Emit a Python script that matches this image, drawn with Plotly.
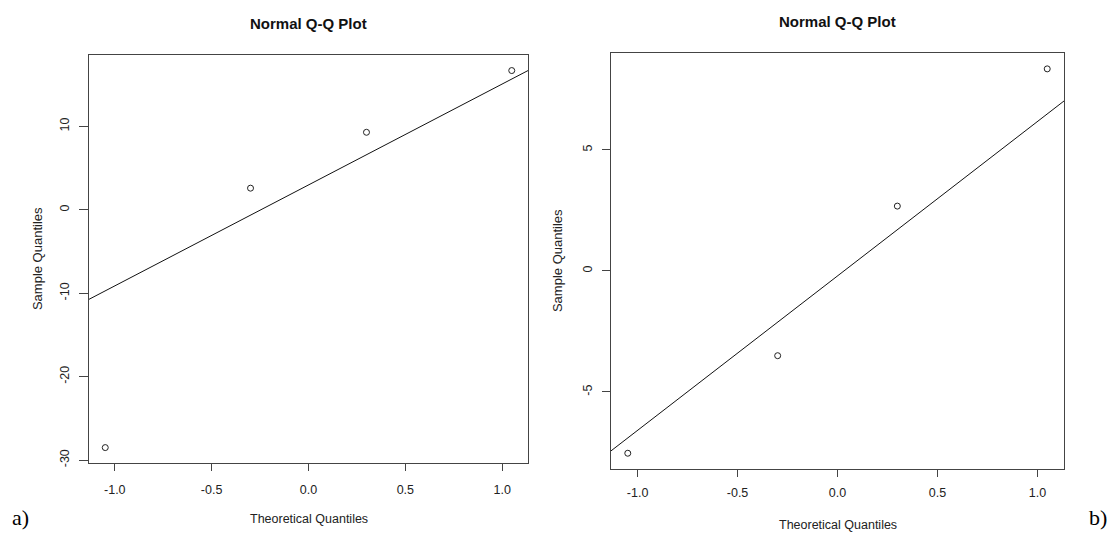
import numpy as np
import plotly.graph_objects as go
from statistics import NormalDist

# Sample values
sample_a = [-28.5, 2.6, 9.3, 16.7]
sample_b = [-7.53, -3.5, 2.68, 8.35]
x_ticks = [-1.0, -0.5, 0.0, 0.5, 1.0]
y_ticks_a = [-30, -20, -10, 0, 10]
y_ticks_b = [-5, 0, 5]

title_text = "Normal Q-Q Plot"
xlab = "Theoretical Quantiles"
ylab = "Sample Quantiles"


def theo_quantiles(n):
    a = 3 / 8 if n <= 10 else 0.5
    p = [(i - a) / (n + 1 - 2 * a) for i in range(1, n + 1)]
    return [NormalDist().inv_cdf(v) for v in p]


def ext(lo, hi):
    d = (hi - lo) * 0.04
    return [lo - d, hi + d]


def qqline(y, xr):
    y = np.sort(np.asarray(y, dtype=float))
    q1, q3 = np.quantile(y, [0.25, 0.75])
    t1, t3 = NormalDist().inv_cdf(0.25), NormalDist().inv_cdf(0.75)
    slope = (q3 - q1) / (t3 - t1)
    inter = q1 - slope * t1
    return [xr[0], xr[1]], [inter + slope * xr[0], inter + slope * xr[1]]


W, H = 1116, 539
fig = go.Figure()

panels = [
    dict(y=sample_a, yt=y_ticks_a, xs="x", ys="y", box=(89, 528, 56, 467),
         xtl=7, ytl=9, xso=8, yso=5),
    dict(y=sample_b, yt=y_ticks_b, xs="x2", ys="y2", box=(611, 1064, 54, 473),
         xtl=7, ytl=8, xso=5, yso=5),
]

txt_color = "#222222"
font_family = "Liberation Sans, Arial, sans-serif"


def note(text, px, py, size, family=font_family, color=txt_color, angle=0):
    fig.add_annotation(text=text, x=px / W, y=1 - py / H, xref="paper", yref="paper",
                       xanchor="center", yanchor="middle", showarrow=False, textangle=angle,
                       font=dict(family=family, size=size, color=color))


for i, p in enumerate(panels):
    y = sorted(p["y"])
    tq = theo_quantiles(len(y))
    xr = ext(tq[0], tq[-1])
    yr = ext(y[0], y[-1])
    lx, ly = qqline(y, xr)
    fig.add_trace(go.Scatter(x=tq, y=y, mode="markers", xaxis=p["xs"], yaxis=p["ys"],
                             marker=dict(symbol="circle-open", size=6, color="#222222",
                                         line=dict(width=1, color="#222222")),
                             showlegend=False))
    fig.add_trace(go.Scatter(x=lx, y=ly, mode="lines", xaxis=p["xs"], yaxis=p["ys"],
                             line=dict(color="#111111", width=1), showlegend=False))
    l, r, t, b = p["box"]
    suffix = "" if i == 0 else "2"
    axcommon = dict(showline=True, mirror=True, linecolor="#444444", linewidth=1,
                    ticks="outside", tickcolor="#444444", tickwidth=1,
                    showgrid=False, zeroline=False,
                    tickfont=dict(family=font_family, size=12.5, color=txt_color))
    fig.update_layout(**{
        "xaxis" + suffix: dict(domain=[l / W, r / W], range=xr, tickvals=x_ticks,
                               ticktext=[f"{v:.1f}" for v in x_ticks],
                               anchor="y" + suffix, ticklen=p["xtl"],
                               ticklabelstandoff=p["xso"], **axcommon),
        "yaxis" + suffix: dict(domain=[1 - b / H, 1 - t / H], range=yr, tickvals=p["yt"],
                               ticktext=[f"{v:d}" for v in p["yt"]],
                               tickangle=-90, anchor="x" + suffix, ticklen=p["ytl"],
                               ticklabelstandoff=p["yso"], **axcommon),
    })
    cx = (l + r) / 2
    note("<b>" + title_text + "</b>", cx, 24 if i == 0 else 22, 15, color="#111111")
    note(xlab, cx, 524 if i == 0 else 530, 12.5)
    note(ylab, 37 if i == 0 else 557, (t + b) / 2, 13, angle=-90)

note("a)", 20, 522, 22, family="Liberation Serif, Times New Roman, serif", color="#000000")
note("b)", 1098, 522, 22, family="Liberation Serif, Times New Roman, serif", color="#000000")

fig.update_layout(width=W, height=H, margin=dict(l=0, r=0, t=0, b=0),
                  paper_bgcolor="white", plot_bgcolor="white")

fig.write_html("out.html", config={"displayModeBar": False},
               post_script="document.body.style.margin='0px';document.body.style.overflow='hidden';")
